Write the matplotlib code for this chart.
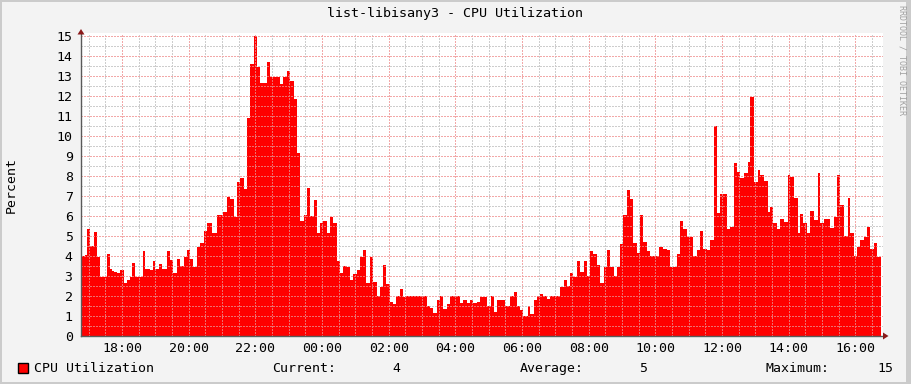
import matplotlib
matplotlib.use('Agg')
import matplotlib.pyplot as plt
from matplotlib.patches import Rectangle, Polygon

# ---- data (minutes since 16:46, value in percent; stepped RRD samples) ----
start_clock_min = 16 * 60 + 46
minutes = [0, 7, 11, 17, 23, 28, 35, 46, 53, 56, 60, 65, 71, 77, 82, 88, 92, 97, 112, 116,
           125, 130, 134, 140, 145, 155, 161, 166, 172, 179, 185, 191, 197, 202, 209, 215, 221, 226, 236, 245,
           256, 262, 269, 275, 281, 287, 293, 298, 305, 311, 316, 322, 334, 340, 359, 364, 370, 377, 383, 388,
           395, 401, 406, 413, 419, 424, 431, 436, 442, 449, 454, 460, 467, 472, 479, 485, 490, 496, 503, 508,
           513, 521, 526, 532, 539, 544, 549, 556, 562, 567, 574, 580, 584, 622, 629, 634, 640, 646, 652, 658,
           665, 682, 688, 694, 700, 706, 712, 719, 730, 738, 743, 749, 764, 773, 779, 784, 790, 796, 804, 809,
           815, 821, 826, 832, 839, 845, 863, 869, 875, 881, 886, 893, 899, 905, 911, 917, 922, 929, 935, 941,
           947, 953, 959, 965, 971, 976, 983, 989, 994, 1000, 1006, 1012, 1019, 1025, 1041, 1047, 1054, 1061, 1073, 1079,
           1084, 1091, 1102, 1109, 1115, 1120, 1127, 1133, 1139, 1145, 1151, 1162, 1168, 1175, 1181, 1187, 1193, 1201, 1205, 1211,
           1218, 1223, 1229, 1236, 1241, 1246, 1253, 1259, 1265, 1272, 1277, 1283, 1290, 1295, 1300, 1307, 1313, 1319, 1326, 1331,
           1337, 1349, 1355, 1361, 1367, 1373, 1380, 1385, 1391, 1397, 1403, 1409, 1415, 1421, 1427, 1433]
cpu = [4.0, 4.05, 5.35, 4.5, 5.2, 3.97, 2.97, 4.1, 3.35, 3.27, 3.2, 3.13, 3.3, 2.67, 2.8, 2.95, 3.67, 2.97, 4.25, 3.37,
       3.32, 3.77, 3.37, 3.58, 3.37, 4.25, 3.8, 3.17, 3.83, 3.5, 3.97, 4.3, 3.83, 3.47, 4.45, 4.67, 5.25, 5.65, 5.17, 6.05,
       6.18, 6.95, 6.85, 5.97, 7.7, 7.9, 7.37, 10.92, 13.6, 15.0, 13.45, 12.67, 13.7, 12.95, 12.6, 12.95, 13.25, 12.75, 11.87, 9.15,
       5.77, 6.05, 7.4, 6.02, 6.8, 5.17, 5.67, 5.75, 5.17, 5.95, 5.67, 3.77, 3.17, 3.5, 3.45, 2.8, 3.08, 3.3, 3.93, 4.28,
       2.63, 3.95, 2.7, 2.0, 2.43, 3.53, 2.58, 1.68, 1.6, 2.0, 2.35, 1.97, 2.0, 1.5, 1.38, 1.17, 1.8, 2.0, 1.37, 1.6,
       2.0, 1.67, 1.8, 1.67, 1.8, 1.63, 1.7, 1.97, 1.5, 2.0, 1.2, 1.8, 1.5, 2.0, 2.2, 1.5, 1.3, 1.0, 1.5, 1.1,
       1.8, 2.0, 2.1, 2.0, 1.83, 2.0, 2.47, 2.8, 2.5, 3.13, 2.97, 3.75, 3.22, 3.75, 3.0, 4.25, 4.1, 3.55, 2.67, 3.47,
       4.3, 3.47, 3.0, 3.47, 4.6, 6.05, 7.3, 6.85, 4.65, 4.17, 6.05, 4.7, 4.25, 3.98, 4.45, 4.35, 4.3, 3.45, 4.1, 5.75,
       5.35, 4.97, 4.0, 4.3, 5.25, 4.35, 4.3, 4.8, 10.5, 6.15, 7.1, 5.35, 5.45, 8.65, 8.22, 7.92, 8.15, 8.7, 11.95, 7.7,
       8.3, 8.05, 7.75, 6.2, 6.45, 5.65, 5.35, 5.85, 5.7, 8.05, 7.95, 6.9, 5.15, 6.1, 5.65, 5.15, 6.25, 5.8, 8.15, 5.65,
       5.85, 5.4, 5.95, 8.05, 6.55, 5.0, 6.9, 5.15, 4.0, 4.45, 4.8, 4.95, 5.45, 4.35, 4.65, 3.95]
end_minute = 1440
x_tick_labels = ["18:00", "20:00", "22:00", "00:00", "02:00", "04:00",
                 "06:00", "08:00", "10:00", "12:00", "14:00", "16:00"]
y_ticks = list(range(0, 16))
title = "list-libisany3 - CPU Utilization"
series_name = "CPU Utilization"
stat_labels = ["Current:", "Average:", "Maximum:"]
stat_values = ["4", "5", "15"]

# ---- figure ----
W, H = 911, 384
MONO = 'DejaVu Sans Mono'
fig = plt.figure(figsize=(W / 100, H / 100), dpi=100, facecolor='#F3F3F3')

def fx(px):
    return px / W

def fy(py):
    return 1 - py / H

ax = fig.add_axes([fx(81), fy(336), (883 - 81) / W, (336 - 33) / H])
ax.set_facecolor('white')

t = minutes + [end_minute]
v = cpu + [cpu[-1]]
area = ax.fill_between(t, v, 0, step='post', color='#FF0000', lw=0, zorder=1)

ax.set_xlim(0, 802 * 1.8)
ax.set_ylim(0, 15 + 3 / 20)

first_major = (18 * 60) - start_clock_min
major_x = [first_major + 120 * k for k in range(len(x_tick_labels))]
minor_x = [m for m in range(14, 1444, 30) if m not in major_x]
minor_y = [y + 0.5 for y in y_ticks[:-1]]
ax.set_xticks(major_x)
ax.set_xticklabels(x_tick_labels)
ax.set_xticks(minor_x, minor=True)
ax.set_yticks(y_ticks)
ax.set_yticklabels([str(y) for y in y_ticks])
ax.set_yticks(minor_y, minor=True)

# grid on white canvas (below the area)
dots = (0, (1.39, 1.39))
ax.set_axisbelow(True)
ax.grid(which='minor', color='#CDCDCD', lw=0.72, ls=dots, antialiased=False)
ax.grid(which='major', color='#F2A8A8', lw=0.72, ls=dots, antialiased=False)

# grid seen through the area (rrdtool draws grid on top of the graph)
clip = area.get_paths()[0]
for xv in minor_x + major_x:
    ln = ax.axvline(xv, color='#EE6E6E', lw=0.72, ls=dots, antialiased=False, zorder=2)
    ln.set_clip_path(clip, ax.transData)
for yv in minor_y + y_ticks[1:]:
    ln = ax.axhline(yv, color='#EE6E6E', lw=0.72, ls=dots, antialiased=False, zorder=2)
    ln.set_clip_path(clip, ax.transData)

for s in ['top', 'right']:
    ax.spines[s].set_visible(False)
for s in ['left', 'bottom']:
    ax.spines[s].set_color('#5a5a5a')
    ax.spines[s].set_linewidth(1.0)
    ax.spines[s].set_zorder(4)

ax.tick_params(which='both', length=0)
ax.tick_params(axis='x', which='major', pad=4.5, labelsize=9.5)
ax.tick_params(axis='y', which='major', pad=6.0, labelsize=9.5)
for lab in ax.get_xticklabels() + ax.get_yticklabels():
    lab.set_family(MONO)

# arrows
fig.patches.append(Polygon([(fx(77.5), fy(34.5)), (fx(84.5), fy(34.5)), (fx(81), fy(29))],
                           closed=True, transform=fig.transFigure, facecolor='#8B1A1A',
                           edgecolor='none', zorder=5))
fig.patches.append(Polygon([(fx(883), fy(332.5)), (fx(883), fy(339.5)), (fx(888.5), fy(336))],
                           closed=True, transform=fig.transFigure, facecolor='#8B1A1A',
                           edgecolor='none', zorder=5))

# texts
fig.text(fx(455), fy(14), title, ha='center', va='center', family=MONO, fontsize=9.6)
fig.text(fx(11), fy(185), 'Percent', rotation=90, ha='center', va='center', family=MONO, fontsize=9.5)
fig.text(fx(902), fy(5), 'RRDTOOL / TOBI OETIKER', rotation=270, ha='center', va='top',
         family=MONO, fontsize=6, color='#A0A0A0')

# legend
fig.patches.append(Rectangle((fx(17.5), fy(373)), 10 / W, 10 / H, transform=fig.transFigure,
                             facecolor='#FF0000', edgecolor='black', lw=1.0))
ly = fy(368.5)
fig.text(fx(34), ly, series_name, ha='left', va='center', family=MONO, fontsize=9.5)
fig.text(fx(272), ly, stat_labels[0], ha='left', va='center', family=MONO, fontsize=9.5)
fig.text(fx(400), ly, stat_values[0], ha='right', va='center', family=MONO, fontsize=9.5)
fig.text(fx(520), ly, stat_labels[1], ha='left', va='center', family=MONO, fontsize=9.5)
fig.text(fx(647), ly, stat_values[1], ha='right', va='center', family=MONO, fontsize=9.5)
fig.text(fx(766), ly, stat_labels[2], ha='left', va='center', family=MONO, fontsize=9.5)
fig.text(fx(893), ly, stat_values[2], ha='right', va='center', family=MONO, fontsize=9.5)

# frame
shade = '#CBCBCB'
for (x0, y0, w, h) in [(0, 0, 2, H), (0, 0, W, 2), (906, 0, W - 906, H), (0, H - 2, W, 2)]:
    fig.patches.append(Rectangle((fx(x0), fy(y0 + h)), w / W, h / H, transform=fig.transFigure,
                                 facecolor=shade, edgecolor='none', zorder=0))

fig.savefig('out.png', dpi=100, facecolor=fig.get_facecolor())
